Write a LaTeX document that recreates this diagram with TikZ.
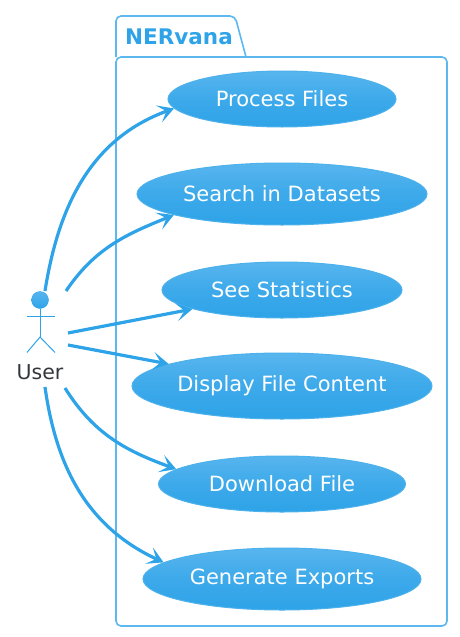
\documentclass[tikz,border=0pt]{standalone}
\usepackage{fontspec}
\setmainfont{DejaVu Sans}
\usetikzlibrary{arrows.meta,shapes.geometric}
\definecolor{umlblue}{HTML}{2EA3E8}
\definecolor{umltop}{HTML}{58B5EE}
\definecolor{umlframe}{HTML}{5CB8EE}
\definecolor{umltext}{HTML}{33373D}

\begin{document}
\begin{tikzpicture}[x=1pt,y=-1pt,
	usecase/.style={ellipse,draw=umlblue!85!white,line width=1pt,top color=umltop,bottom color=umlblue,middle color=umlblue!65!umltop,text=white,inner sep=0pt,font=\fontsize{21}{23}\selectfont},
	actorhead/.style={circle,draw=umlblue,top color=umltop,bottom color=umlblue,minimum size=17pt,inner sep=0pt},
	limb/.style={draw=umlblue,line width=1pt},
	link/.style={draw=umlblue,line width=3.2pt,-{Stealth[length=16pt,width=18pt,inset=8pt]}}]
\useasboundingbox (0,0) rectangle (459,637);

% package
\draw[umlframe,line width=1.6pt,rounded corners=5pt] (116,57) -- (116,16) -- (235,16) -- (246,57);
\draw[umlframe,line width=1.6pt,rounded corners=5pt] (116,57) rectangle (447,626);
\node[text=umlblue,font=\fontsize{21.5}{23}\selectfont\bfseries,anchor=base west,inner sep=0pt] (pkgtitle) at (125,44) {NERvana};

% use cases
\node[usecase,minimum width=228pt,minimum height=56pt] (process) at (282,99) {\raisebox{1.5pt}{Process Files}};
\node[usecase,minimum width=290pt,minimum height=62pt] (search) at (282,194) {\raisebox{1pt}{Search in Datasets}};
\node[usecase,minimum width=240pt,minimum height=56pt] (stats) at (282,290) {See Statistics};
\node[usecase,minimum width=300pt,minimum height=66pt] (display) at (282,386) {Display File Content};
\node[usecase,minimum width=247pt,minimum height=56pt] (download) at (282,484) {\raisebox{1pt}{Download File}};
\node[usecase,minimum width=278pt,minimum height=62pt] (exports) at (282,579) {\raisebox{1pt}{Generate Exports}};

% actor
\node[actorhead] (head) at (40,300) {};
\coordinate (hip) at (40,337);
\draw[limb] (head.south) -- (hip);
\draw[limb] (27,316) -- (55,316);
\draw[limb] (27,352.5) -- (hip) -- (55,352.5);
\node[text=umltext,font=\fontsize{20.5}{22}\selectfont] (user) at (40,372) {User};

% connectors
\coordinate (a1) at (45,291);
\coordinate (a2) at (66,291);
\coordinate (a3) at (68,333);
\coordinate (a4) at (68,345);
\coordinate (a5) at (65,388);
\coordinate (a6) at (45,387);
\draw[link] (a1) to[out=81,in=200] (process.185);
\draw[link] (a2) to[out=56,in=202] (search.191);
\draw[link] (a3) -- (stats.192);
\draw[link] (a4) -- (display.169);
\draw[link] (a5) to[out=-58,in=160] (download.172);
\draw[link] (a6) to[out=-82,in=155] (exports.172);
\end{tikzpicture}
\end{document}
